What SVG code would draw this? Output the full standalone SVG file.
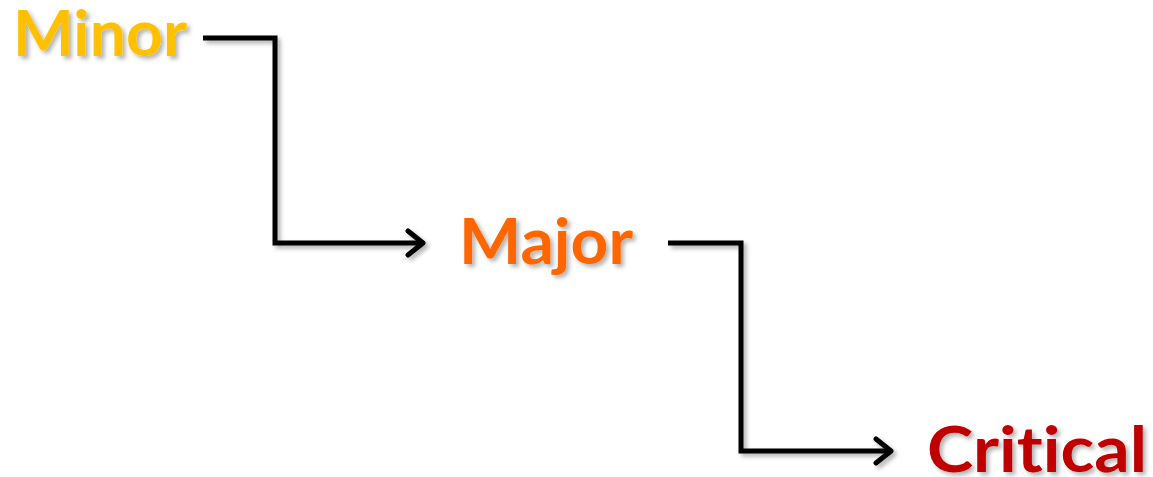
<svg xmlns="http://www.w3.org/2000/svg" width="1153" height="477" viewBox="0 0 1153 477">
<defs>
<filter id="sh" x="-20%" y="-20%" width="140%" height="140%">
<feDropShadow dx="3" dy="3" stdDeviation="2" flood-color="#000" flood-opacity="0.3"/>
</filter>
<marker id="ah" viewBox="0 0 30 30" refX="25" refY="15" markerWidth="30" markerHeight="30" markerUnits="userSpaceOnUse" orient="auto">
<path d="M10,3 L25,15 L10,27" fill="none" stroke="#000" stroke-width="5" stroke-linecap="round" stroke-linejoin="round"/>
</marker>
<style>
.lbl{font-family:Lato,"DejaVu Sans",sans-serif;font-weight:bold;font-size:64px;font-variant-ligatures:none;font-feature-settings:"liga" 0;filter:url(#sh)}
.conn{fill:none;stroke:#000;stroke-width:5;stroke-linejoin:miter;filter:url(#sh)}
</style>
</defs>
<rect width="1153" height="477" fill="#fff"/>
<g id="minor"><text class="lbl" x="13" y="56" fill="#FFC000" textLength="174" lengthAdjust="spacingAndGlyphs">Minor</text></g>
<g id="major"><text class="lbl" x="459" y="264" fill="#FF6600" textLength="174" lengthAdjust="spacingAndGlyphs">Major</text></g>
<g id="critical"><text class="lbl" x="927" y="472" fill="#C00000" textLength="220" lengthAdjust="spacingAndGlyphs">Critical</text></g>
<g id="connectors">
<path class="conn" d="M203,38 H275 V243 H423" marker-end="url(#ah)"/>
<path class="conn" d="M668,243 H741 V451 H891" marker-end="url(#ah)"/>
</g>
</svg>
